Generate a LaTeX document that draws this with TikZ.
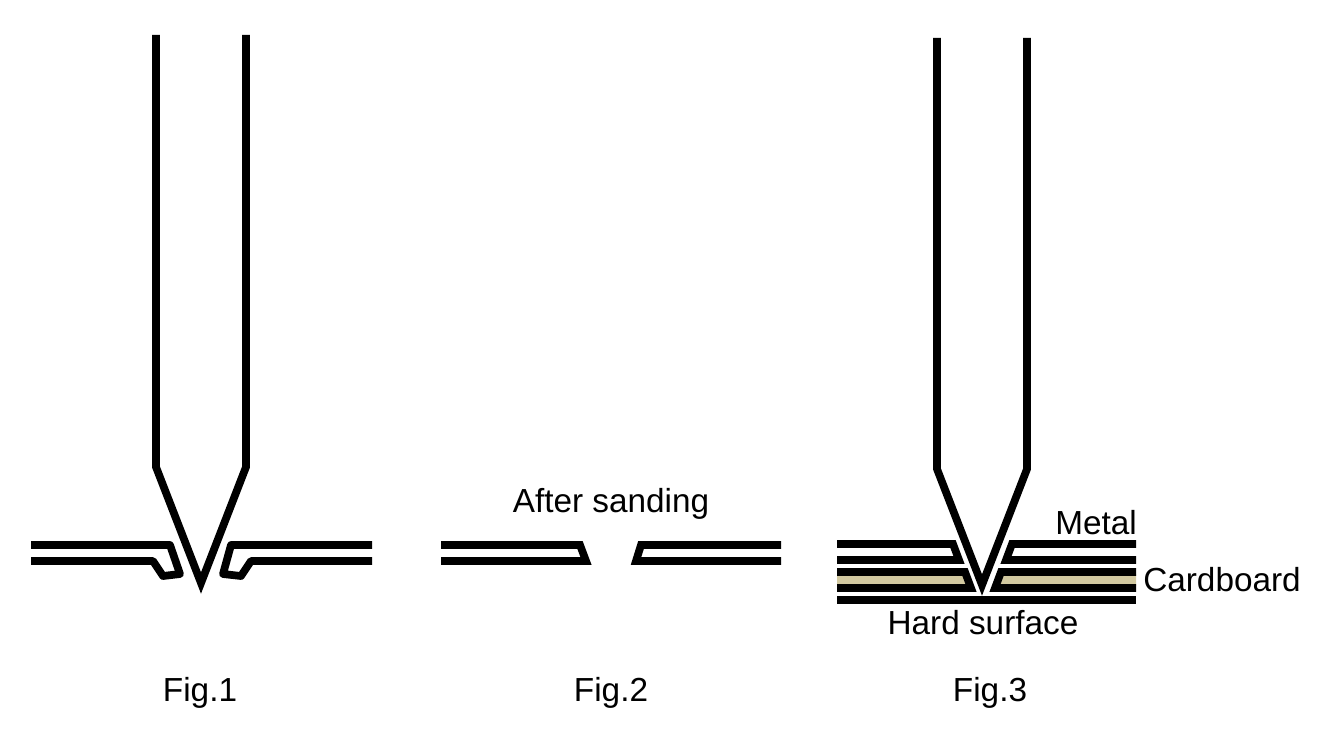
\documentclass[tikz,border=0pt]{standalone}
\usepackage{fontspec}
\setmainfont{Liberation Sans}
\definecolor{cardtan}{HTML}{D2C9A0}
\tikzset{
  ink/.style={draw=black,line width=5.8pt,miter limit=12,line join=miter},
  soft/.style={ink,line join=round},
  lab/.style={inner sep=0pt,font=\fontsize{25}{30}\selectfont,text=black},
}
\begin{document}
\begin{tikzpicture}[x=0.75pt,y=-0.75pt]
\useasboundingbox (0,0) rectangle (1326,742);
% Fig.1
\draw[ink] (156,35)--(156,467)--(201,583)--(246,467)--(246,35);
\draw[soft] (31,545)--(170,545)--(180,574)--(163,576)--(153,561)--(31,561);
\draw[soft] (372,545)--(231,545)--(223,574)--(241,576)--(251,561)--(372,561);
% Fig.2
\draw[ink] (441,545)--(580,545)--(586,561)--(441,561);
\draw[ink] (781,545)--(641,545)--(636,561)--(781,561);
% Fig.3
\fill[cardtan] (837,574)--(965,574)--(969,586)--(837,586)--cycle;
\fill[cardtan] (1136,574)--(1003,574)--(999,586)--(1136,586)--cycle;
\draw[ink] (937,38)--(937,469)--(982,585)--(1027,469)--(1027,38);
\draw[ink] (837,544)--(953,544)--(959,560)--(837,560);
\draw[ink] (1136,544)--(1012,544)--(1006,560)--(1136,560);
\draw[ink] (837,572)--(965,572)--(971,588)--(837,588);
\draw[ink] (1136,572)--(1001,572)--(995,588)--(1136,588);
\draw[ink] (837,600)--(1136,600);
% Labels
\node[lab] (sand) at (611,504) {After sanding};
\node[lab] (metal) at (1096,523) {Metal};
\node[lab] (card) at (1222,580) {Cardboard};
\node[lab] (hard) at (983,623) {Hard surface};
\node[lab] (f1) at (200,693) {Fig.1};
\node[lab] (f2) at (611,693) {Fig.2};
\node[lab] (f3) at (990,693) {Fig.3};
\end{tikzpicture}
\end{document}
